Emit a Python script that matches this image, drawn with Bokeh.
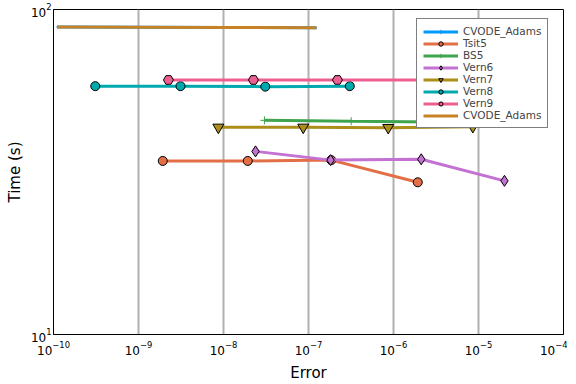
from bokeh.plotting import figure
from bokeh.models import FixedTicker, Legend, LegendItem
from bokeh.embed import file_html
from bokeh.resources import INLINE

# ---- data (Error, Time in s) ----
cvode_blue_err = [1.1e-10, 1.1e-9, 1.1e-8, 1.24e-7]
cvode_blue_time = [88.3, 88.2, 88.1, 87.8]

tsit5_err = [1.93e-9, 1.93e-8, 1.85e-7, 1.93e-6]
tsit5_time = [34.2, 34.2, 34.4, 29.4]

bs5_err = [3.03e-8, 3.18e-7, 3.18e-6, 3.18e-5]
bs5_time = [45.6, 45.3, 45.1, 44.9]

vern6_err = [2.38e-8, 1.82e-7, 2.12e-6, 2.02e-5]
vern6_time = [36.6, 34.4, 34.6, 29.7]

vern7_err = [8.7e-9, 8.67e-8, 8.67e-7, 8.57e-6]
vern7_time = [43.4, 43.4, 43.3, 43.6]

vern8_err = [3.1e-10, 3.12e-9, 3.1e-8, 3.06e-7]
vern8_time = [58.1, 58.1, 57.9, 58.1]

vern9_err = [2.25e-9, 2.25e-8, 2.19e-7, 2.2e-6]
vern9_time = [60.7, 60.7, 60.7, 60.7]

cvode_err = [1.1e-10, 1.1e-9, 1.1e-8, 1.24e-7]
cvode_time = [88.3, 88.2, 88.1, 87.8]

x_ticks = [1e-10, 1e-9, 1e-8, 1e-7, 1e-6, 1e-5, 1e-4]
y_ticks = [10, 100]

FONT = "DejaVu Sans"

p = figure(x_axis_type="log", y_axis_type="log",
           x_range=(1e-10, 1e-4), y_range=(10, 100),
           frame_width=510, frame_height=325,
           min_border_left=53, min_border_right=4, min_border_top=9, min_border_bottom=39,
           output_backend="svg", toolbar_location=None,
           x_axis_label="Error", y_axis_label="Time (s)")

for ax, ticks in ((p.xaxis[0], x_ticks), (p.yaxis[0], y_ticks)):
    ax.ticker = FixedTicker(ticks=ticks, minor_ticks=[])
    ax.major_label_text_font = FONT
    ax.major_label_text_font_size = "12px"
    ax.major_label_text_color = "black"
    ax.axis_label_text_font = FONT
    ax.axis_label_text_font_size = "15px"
    ax.axis_label_text_font_style = "normal"
    ax.axis_label_text_color = "black"
    ax.major_tick_in = 0
    ax.major_tick_out = 0
    ax.minor_tick_line_color = None
    ax.axis_line_color = "black"
    ax.major_label_standoff = 2
    ax.axis_label_standoff = 4
p.xaxis[0].major_label_standoff = 6
p.xaxis[0].axis_label_standoff = 6

p.xgrid.grid_line_color = "#b0b0b0"
p.xgrid.grid_line_width = 2
p.ygrid.grid_line_color = None
p.outline_line_color = "black"
p.outline_line_width = 1
p.outline_line_alpha = 1

items = []

def series(err, time, color, label, marker=None, msize=9):
    rs = []
    r = p.line(err, time, line_color=color, line_width=3)
    rs.append(r)
    if marker is not None:
        if marker == "cross":
            s = p.scatter(err, time, marker="cross", size=msize, line_color=color, line_width=1)
        else:
            s = p.scatter(err, time, marker=marker, size=msize, fill_color=color,
                          line_color="black", line_width=1)
        rs.append(s)
    items.append(LegendItem(label=label, renderers=rs))

series(cvode_blue_err, cvode_blue_time, "#009AFA", "CVODE_Adams", "cross", 1)
series(tsit5_err, tsit5_time, "#E36F47", "Tsit5", "circle", 9)
series(bs5_err, bs5_time, "#3EA44E", "BS5", "cross", 8)
series(vern6_err, vern6_time, "#C371D2", "Vern6", "diamond", 11)
series(vern7_err, vern7_time, "#AC8E18", "Vern7", "inverted_triangle", 11)
series(vern8_err, vern8_time, "#00A9AD", "Vern8", "circle", 9)
series(vern9_err, vern9_time, "#ED5E93", "Vern9", "hex", 10)
series(cvode_err, cvode_time, "#C68225", "CVODE_Adams")

legend = Legend(items=items, location=(363, 206))
legend.label_text_font = FONT
legend.label_text_font_size = "10.5px"
legend.glyph_width = 35
legend.glyph_height = 11
legend.label_height = 11
legend.spacing = 0
legend.padding = 6
legend.margin = 0
legend.border_line_color = "black"
legend.border_line_width = 1
legend.background_fill_alpha = 1
legend.label_standoff = 5
p.add_layout(legend)

open("out.html", "w").write(file_html(p, INLINE))
